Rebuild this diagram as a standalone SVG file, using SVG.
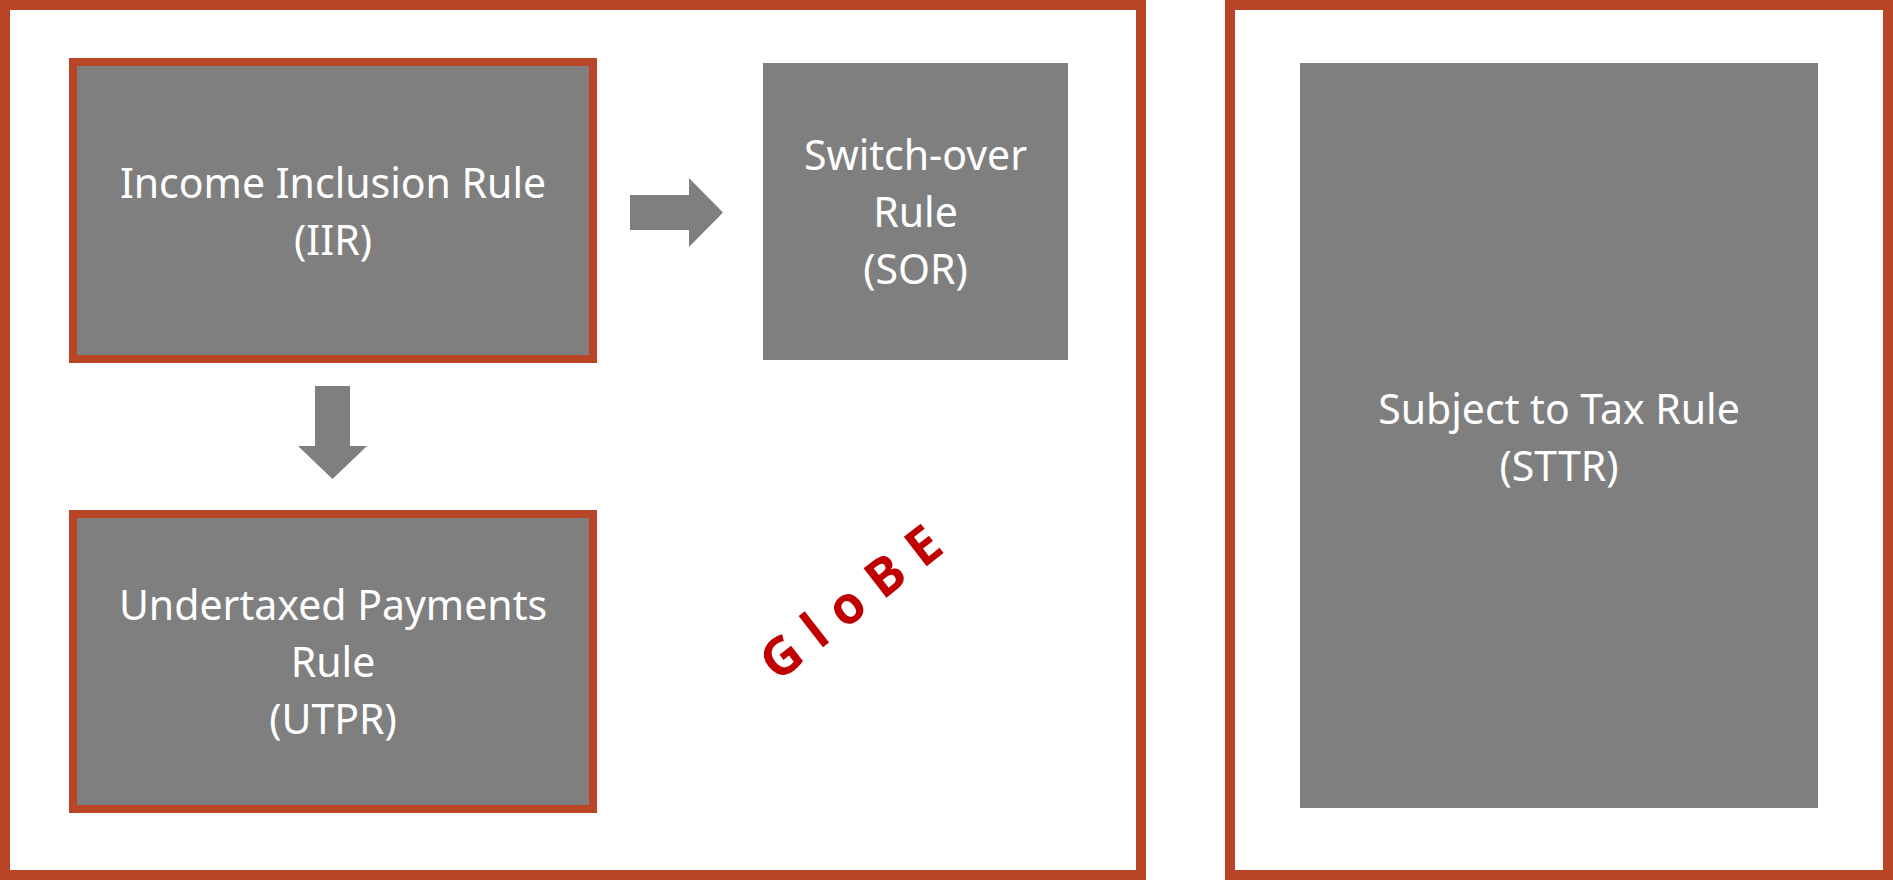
<svg xmlns="http://www.w3.org/2000/svg" width="1893" height="880" viewBox="0 0 1893 880">
  <style>
    .frame { fill: #FFFFFF; stroke: #BA4526; stroke-width: 10; }
    .box { fill: #7F7F7F; }
    .box-framed { fill: #7F7F7F; stroke: #BA4526; stroke-width: 8; }
    .label { font-family: "Noto Sans", "Liberation Sans", sans-serif; font-size: 41px; fill: #FFFFFF; text-anchor: middle; }
    .arrow { fill: #7F7F7F; }
    .globe { font-family: "Open Sans", "Liberation Sans", sans-serif; font-weight: 700; font-size: 52px; fill: #C00000; letter-spacing: 16px; }
  </style>

  <rect width="1893" height="880" fill="#FFFFFF"/>

  <!-- GloBE pillar frame -->
  <g id="globe-frame">
    <rect class="frame" x="5" y="5" width="1136" height="870"/>
    <text class="globe" x="0" y="0" transform="translate(868 612) rotate(-38)" text-anchor="middle">GloBE</text>
  </g>

  <!-- STTR pillar frame -->
  <g id="sttr-frame">
    <rect class="frame" x="1230" y="5" width="658" height="870"/>
  </g>

  <g id="iir">
    <rect class="box-framed" x="73" y="62" width="520" height="297"/>
    <text class="label" x="333" y="198">Income Inclusion Rule</text>
    <text class="label" x="333" y="255">(IIR)</text>
  </g>

  <g id="sor">
    <rect class="box" x="763" y="63" width="305" height="297"/>
    <text class="label" x="915.5" y="170">Switch-over</text>
    <text class="label" x="915.5" y="227">Rule</text>
    <text class="label" x="915.5" y="284">(SOR)</text>
  </g>

  <g id="utpr">
    <rect class="box-framed" x="73" y="514" width="520" height="295"/>
    <text class="label" x="333" y="620">Undertaxed Payments</text>
    <text class="label" x="333" y="677">Rule</text>
    <text class="label" x="333" y="734">(UTPR)</text>
  </g>

  <g id="sttr">
    <rect class="box" x="1300" y="63" width="518" height="745"/>
    <text class="label" x="1559" y="424">Subject to Tax Rule</text>
    <text class="label" x="1559" y="481">(STTR)</text>
  </g>

  <!-- block arrows -->
  <g id="connectors">
    <polygon class="arrow" points="630,195 689,195 689,178 723,212.5 689,247 689,230 630,230"/>
    <polygon class="arrow" points="315,386 350,386 350,446 367,446 332.5,479 298,446 315,446"/>
  </g>
</svg>
